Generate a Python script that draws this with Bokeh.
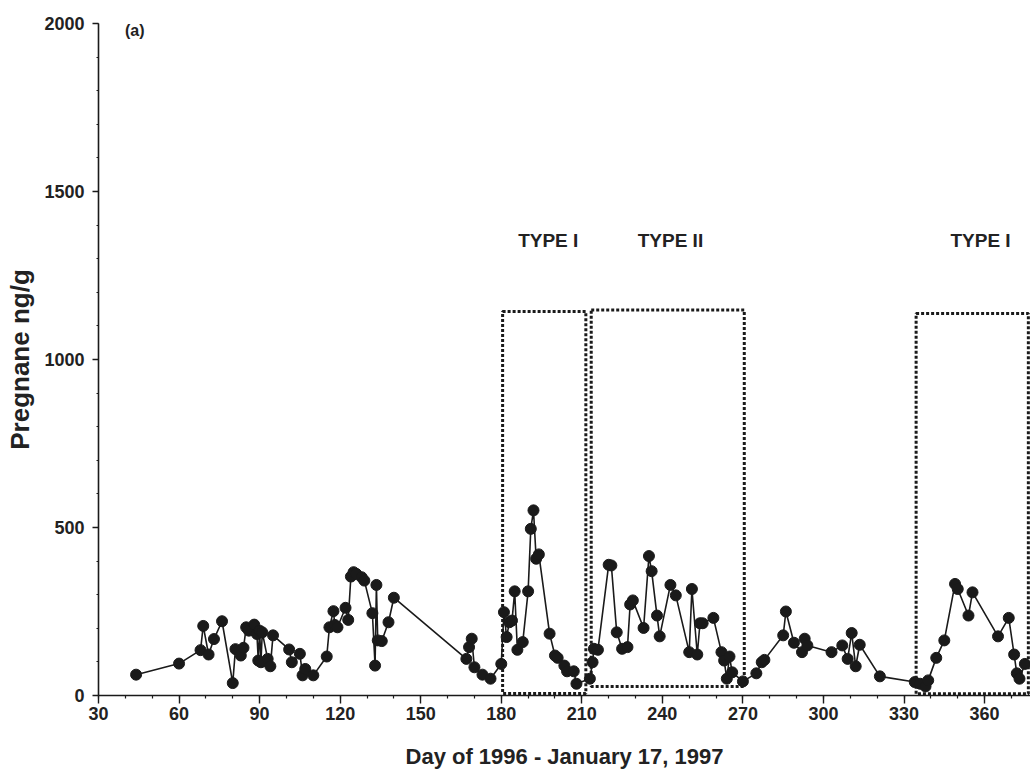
from bokeh.plotting import figure
from bokeh.models import Range1d, SingleIntervalTicker, Label
from bokeh.embed import file_html
from bokeh.resources import INLINE

# ---- data ----
days = [44, 60, 68, 69, 71, 73, 76, 80, 81, 83, 84, 85, 86, 88, 89, 89.5, 90, 90.5, 91,
        93, 94, 95, 101, 102, 105, 106, 107, 110, 115, 116, 117.5, 118, 119, 122, 123,
        124, 125, 126, 128, 129, 132, 133, 133.5, 134, 135.5, 138, 140,
        167, 168, 169, 170, 173, 176, 180, 181, 182, 183, 184, 185, 186, 188, 190,
        191, 192, 193, 194, 198, 200, 201, 203.5, 204.5, 207, 208, 213, 214, 214.5,
        216, 220, 221, 223, 225, 227, 228, 229, 233, 235, 236, 238, 239, 243, 245,
        250, 251, 253, 254, 255, 259, 262, 263, 264, 265, 266, 270, 275, 277, 278,
        285, 286, 289, 292, 293, 294, 303, 307, 309, 310.5, 312, 313.5, 321,
        334, 336, 338, 339, 342, 345, 349, 350, 354, 355.5, 365, 369, 371, 372,
        373, 375]
pregnane = [62, 95, 135, 207, 122, 168, 221, 37, 138, 119, 142, 203, 193, 211, 183, 104,
            193, 99, 188, 109, 87, 179, 137, 99, 124, 60, 79, 60, 116, 203, 251, 210,
            203, 261, 225, 354, 367, 362, 352, 342, 245, 89, 329, 164, 162, 218, 291,
            109, 144, 169, 84, 62, 50, 94, 248, 174, 218, 223, 310, 136, 159, 310,
            496, 551, 407, 420, 184, 119, 112, 89, 72, 72, 35, 50, 99, 139,
            136, 389, 387, 188, 139, 144, 271, 283, 201, 415, 370, 238, 176, 329, 298,
            129, 317, 122, 215, 215, 231, 129, 104, 50, 116, 69, 42, 66, 99, 106,
            179, 250, 157, 129, 169, 149, 129, 149, 109, 186, 87, 151, 57,
            40, 35, 27, 45, 112, 164, 332, 317, 238, 307, 176, 231, 122, 66,
            50, 94]

# dotted phase boxes
box_left = [180.5, 213.5, 334.5]
box_right = [211.5, 270.5, 376.3]
box_top = [1143, 1147, 1137]
box_bottom = [6, 27, 5]

type_labels = ["TYPE I", "TYPE II", "TYPE I"]
type_x = [197.5, 243, 358.5]

x_ticks_interval = 30
y_ticks_interval = 500

FONT = "Liberation Sans"
INK = "#1a1a1a"

p = figure(width=1030, height=774, output_backend="svg", toolbar_location=None,
           x_range=Range1d(30, 377.1), y_range=Range1d(0, 2000),
           min_border_left=98, min_border_right=0, min_border_top=23,
           min_border_bottom=79)
p.outline_line_color = None
p.xgrid.visible = False
p.ygrid.visible = False
p.background_fill_color = "white"

# axes
p.xaxis.ticker = SingleIntervalTicker(interval=x_ticks_interval, num_minor_ticks=3)
p.yaxis.ticker = SingleIntervalTicker(interval=y_ticks_interval, num_minor_ticks=5)
for ax in (p.xaxis[0], p.yaxis[0]):
    ax.axis_line_color = INK
    ax.axis_line_width = 1.6
    ax.major_tick_line_color = INK
    ax.minor_tick_line_color = INK
    ax.major_tick_line_width = 1.4
    ax.minor_tick_line_width = 1.2
    ax.major_tick_in = 0
    ax.minor_tick_in = 0
    ax.major_label_text_font = FONT
    ax.major_label_text_font_style = "bold"
    ax.major_label_text_font_size = "18px"
    ax.major_label_text_color = "#222222"
    ax.axis_label_text_font = FONT
    ax.axis_label_text_font_style = "bold"
    ax.axis_label_text_color = "#222222"

p.xaxis.major_tick_out = 8
p.xaxis.minor_tick_out = 3
p.xaxis.major_label_standoff = 3
p.xaxis.axis_label = "Day of 1996 - January 17, 1997"
p.xaxis.axis_label_text_font_size = "22px"
p.xaxis.axis_label_standoff = 21

p.yaxis.major_tick_out = 6
p.yaxis.minor_tick_out = 2
p.yaxis.major_label_standoff = 8
p.yaxis.axis_label = "Pregnane ng/g"
p.yaxis.axis_label_text_font_size = "26px"
p.yaxis.axis_label_standoff = 6

# dotted boxes
p.quad(left=box_left, right=box_right, top=box_top, bottom=box_bottom,
       fill_alpha=0, line_color=INK, line_width=3, line_dash="3 2")

# series
p.line(days, pregnane, line_color=INK, line_width=1.6)
p.scatter(days, pregnane, size=11, fill_color=INK, line_color=INK)

# annotations
for t, x in zip(type_labels, type_x):
    p.add_layout(Label(x=x, y=1354, text=t, text_align="center", text_baseline="middle",
                       text_font=FONT, text_font_style="bold", text_font_size="19px",
                       text_color="#222222"))
p.add_layout(Label(x=43.5, y=1979, text="(a)", text_align="center", text_baseline="middle",
                   text_font=FONT, text_font_style="bold", text_font_size="16px",
                   text_color="#222222"))

open("out.html", "w").write(file_html(p, INLINE))
